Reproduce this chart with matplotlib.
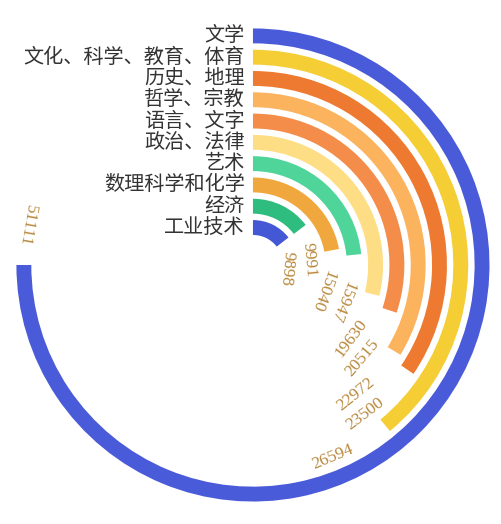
import matplotlib
matplotlib.use('Agg')
import matplotlib.pyplot as plt
import numpy as np

## book categories, innermost ring first
categories = ['工业技术', '经济', '数理科学和化学', '艺术', '政治、法律',
              '语言、文字', '哲学、宗教', '历史、地理', '文化、科学、教育、体育', '文学']
values = [9898, 9991, 15040, 15947, 19630, 20515, 22972, 23500, 26594, 51111]
colors = ['#4458d6', '#2ebd7e', '#f0a83e', '#4fd49a', '#fede85',
          '#f48c4a', '#fbb35e', '#ed7a30', '#f5cd35', '#4a5bd9']

# where each number label sits: degrees past the arc end, and a small radial nudge
label_shift = [43, 32, 31, 28, 23, 22, 20, 19, 17, 10]
label_nudge = [-0.17, -0.1, -0.25, -0.25, 0, 0, 0, 0, 0, 0]

plt.rcParams['font.family'] = ['Noto Sans CJK SC', 'DejaVu Sans']

fig = plt.figure(figsize=(5.02, 5.24), dpi=100)
ax = fig.add_axes([0.0259, 0.0363, 0.956, 0.916], projection='polar')
ax.set_theta_zero_location('N')
ax.set_theta_direction(-1)

angle_max = max(values) * 4 / 3
theta = [v / angle_max * 2 * np.pi for v in values]
r = np.arange(len(categories))

ax.barh(r, theta, left=0, height=0.7, color=colors, edgecolor='none')
ax.set_ylim(-1.76, 9.51)
ax.set_xlim(0, 2 * np.pi)
ax.axis('off')

for i, name in enumerate(categories):
    ax.annotate(name, xy=(0, r[i]), xytext=(-8, 0), textcoords='offset pixels',
                ha='right', va='center', fontsize=14.5, color='#333333')

for i, v in enumerate(values):
    deg = np.degrees(theta[i]) + label_shift[i]
    if 120 < deg < 300:
        rot = 180 - deg
    else:
        rot = -deg
    ax.text(np.radians(deg), r[i] + label_nudge[i], str(v), rotation=rot,
            rotation_mode='anchor', ha='center', va='center', fontsize=12.5,
            color='#b8883c', family='Liberation Serif')

fig.savefig('out.png', dpi=100)
